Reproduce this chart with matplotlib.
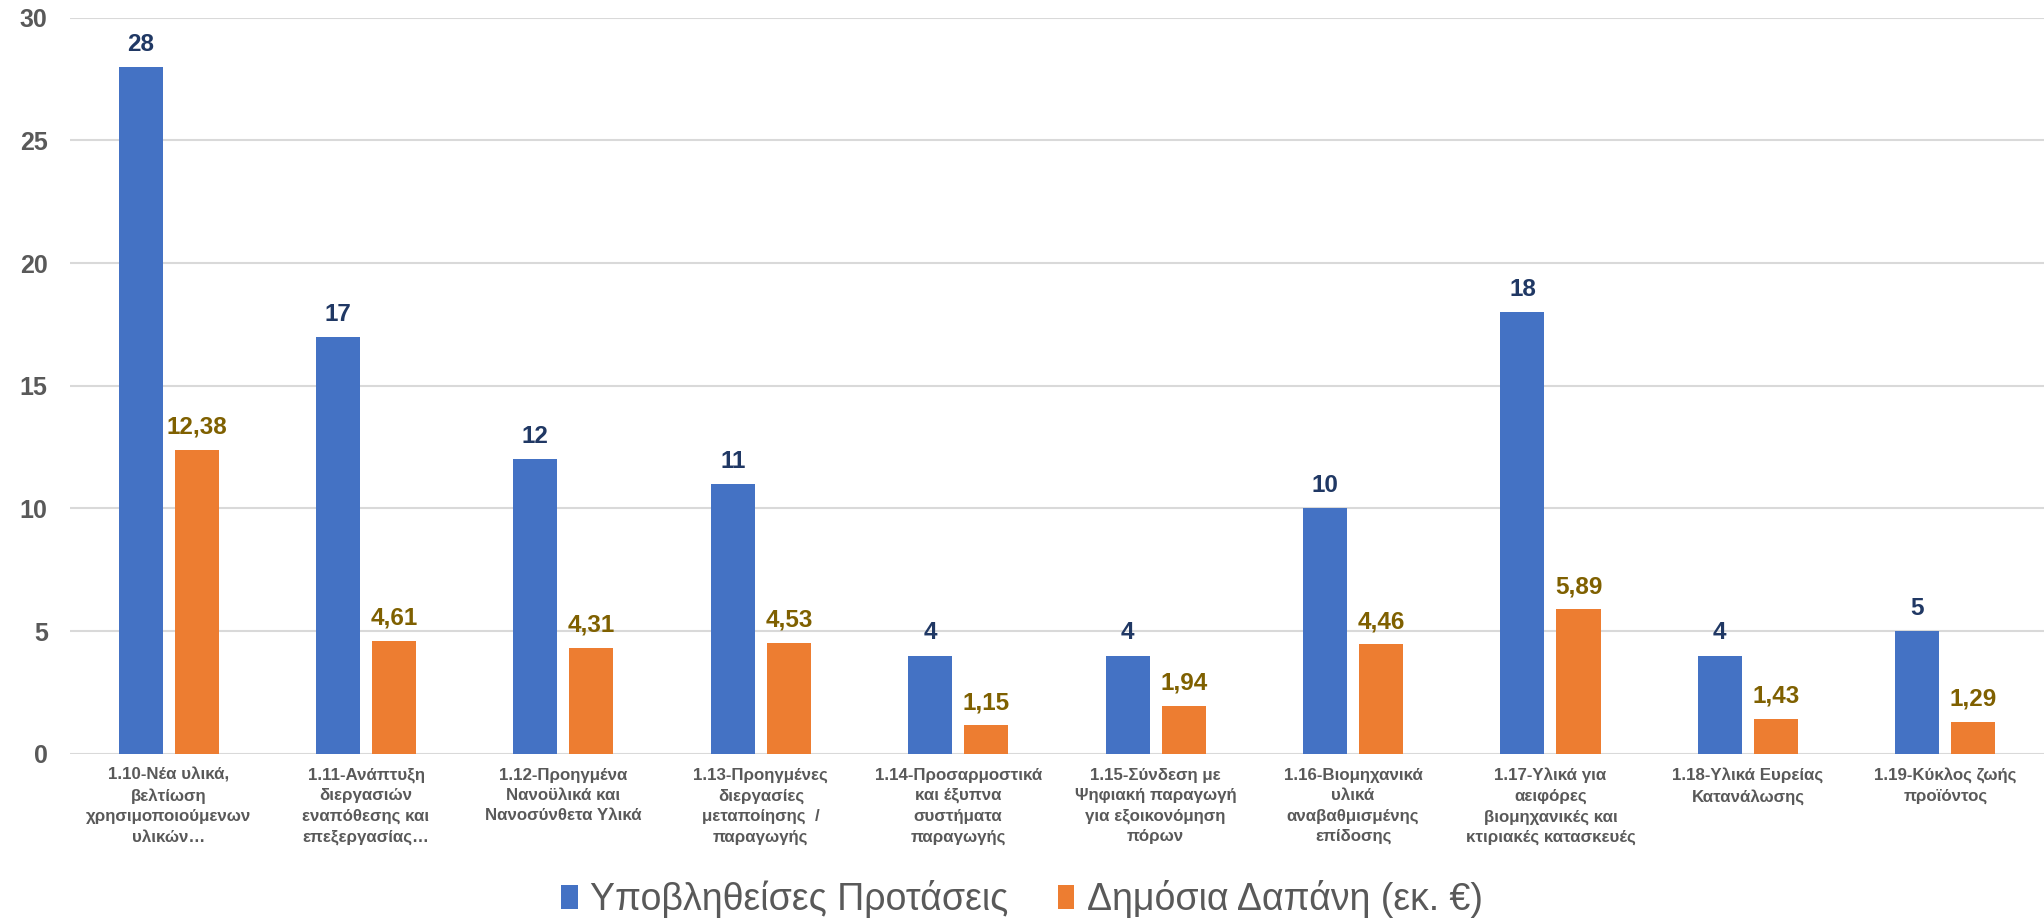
import matplotlib
matplotlib.use("Agg")
import matplotlib.pyplot as plt
import numpy as np
from matplotlib.patches import Patch

categories = [
    "1.10-Νέα υλικά,\nβελτίωση\nχρησιμοποιούμενων\nυλικών…",
    "1.11-Ανάπτυξη\nδιεργασιών\nεναπόθεσης και\nεπεξεργασίας…",
    "1.12-Προηγμένα\nΝανοϋλικά και\nΝανοσύνθετα Υλικά",
    "1.13-Προηγμένες\nδιεργασίες\nμεταποίησης  /\nπαραγωγής",
    "1.14-Προσαρμοστικά\nκαι έξυπνα\nσυστήματα\nπαραγωγής",
    "1.15-Σύνδεση με\nΨηφιακή παραγωγή\nγια εξοικονόμηση\nπόρων",
    "1.16-Βιομηχανικά\nυλικά\nαναβαθμισμένης\nεπίδοσης",
    "1.17-Υλικά για\nαειφόρες\nβιομηχανικές και\nκτιριακές κατασκευές",
    "1.18-Υλικά Ευρείας\nΚατανάλωσης",
    "1.19-Κύκλος ζωής\nπροϊόντος",
]
proposals = [28, 17, 12, 11, 4, 4, 10, 18, 4, 5]
spending = [12.38, 4.61, 4.31, 4.53, 1.15, 1.94, 4.46, 5.89, 1.43, 1.29]
series_names = ["Υποβληθείσες Προτάσεις", "Δημόσια Δαπάνη (εκ. €)"]
yticks = [0, 5, 10, 15, 20, 25, 30]

BLUE = "#4472C4"
ORANGE = "#ED7D31"
GRAY = "#595959"
FONT = ["Liberation Sans", "DejaVu Sans"]
plt.rcParams["font.family"] = FONT

fig = plt.figure(figsize=(20.44, 9.18), dpi=100)
ax = fig.add_axes([0.0342, 0.179, 0.9658, 0.8016])

x = np.arange(len(categories))
w = 0.223
off = 0.142
b1 = ax.bar(x - off, proposals, w, color=BLUE, zorder=3)
b2 = ax.bar(x + off, spending, w, color=ORANGE, zorder=3)

for rect, v in zip(b1, proposals):
    ax.annotate(f"{v}", (rect.get_x() + rect.get_width() / 2, rect.get_height()),
                xytext=(0, 8), textcoords="offset points", ha="center", va="bottom",
                fontsize=17.5, fontweight="bold", color="#203864")
for rect, v in zip(b2, spending):
    ax.annotate(f"{v:.2f}".replace(".", ","), (rect.get_x() + rect.get_width() / 2, rect.get_height()),
                xytext=(0, 8), textcoords="offset points", ha="center", va="bottom",
                fontsize=17.5, fontweight="bold", color="#7F6000")

ax.set_xlim(-0.5, len(categories) - 0.5)
ax.set_ylim(0, 30)
ax.set_yticks(yticks)
ax.set_yticklabels([str(t) for t in yticks], fontsize=18, fontweight="bold", color=GRAY)
ax.set_xticks(x)
ax.set_xticklabels(categories, fontsize=12.2, fontweight="bold", color=GRAY, linespacing=1.45, va="top")
ax.tick_params(axis="y", length=0, pad=16)
ax.tick_params(axis="x", length=0, pad=10)
for s in ax.spines.values():
    s.set_visible(False)
ax.grid(axis="y", color="#D9D9D9", linewidth=1.5, zorder=0)
ax.set_axisbelow(True)

handles = [Patch(facecolor=BLUE, edgecolor="none"), Patch(facecolor=ORANGE, edgecolor="none")]
fig.legend(handles, series_names, loc="center", bbox_to_anchor=(0.5, 1 - 899 / 918),
           ncol=2, frameon=False, fontsize=27, labelcolor=GRAY,
           handlelength=0.45, handleheight=0.6, handletextpad=0.33, columnspacing=1.3)

fig.savefig("out.png", dpi=100)
